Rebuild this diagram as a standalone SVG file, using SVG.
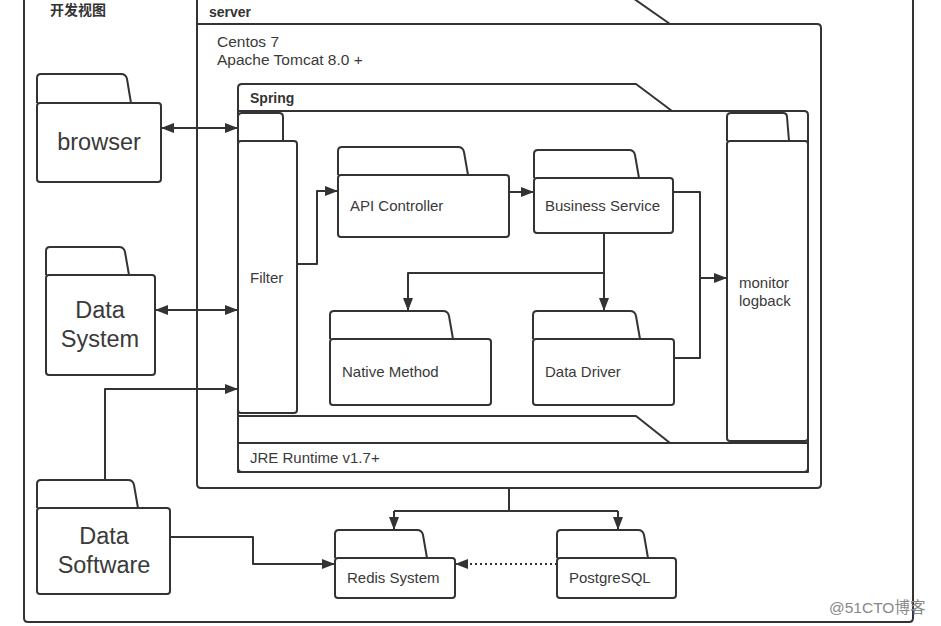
<svg xmlns="http://www.w3.org/2000/svg" width="941" height="626" viewBox="0 0 941 626">
<style>
.ln{fill:none;stroke:#333;stroke-width:2;stroke-linejoin:round}
.bx{fill:#fff;stroke:#333;stroke-width:2;stroke-linejoin:round}
.t{font-family:"Liberation Sans","Noto Sans CJK SC",sans-serif;fill:#3a3a3a;font-size:15px}
.os{font-size:15.5px}
.b{font-weight:bold;font-size:14px;fill:#333}
.big{font-size:23.5px;text-anchor:middle}
.c{fill:none;stroke:#333;stroke-width:2;stroke-linejoin:round}
.wm{font-family:"Liberation Sans","Noto Sans CJK SC",sans-serif;fill:#888;font-size:15.5px}
</style>
<defs>
<marker id="ar" markerUnits="userSpaceOnUse" markerWidth="16" markerHeight="12" refX="13" refY="6" orient="auto-start-reverse">
<path d="M0,1 L13,6 L0,11 Z" fill="#333"/>
</marker>
</defs>
<rect width="941" height="626" fill="#fff"/>

<g id="frame">
<path class="ln" d="M24,-20 V618 Q24,622 28,622 H909 Q913,622 913,618 V-20"/>
<text class="t b" x="50" y="15">开发视图</text>
</g>

<g id="server">
<path class="ln" d="M197,24 V-4 H630 L670,24"/>
<path class="ln" d="M197,24 H817 Q821,24 821,28 V484 Q821,488 817,488 H201 Q197,488 197,484 Z"/>
<text class="t b" x="209" y="17">server</text>
<text class="t os" x="217" y="47">Centos 7</text>
<text class="t os" x="217" y="65">Apache Tomcat 8.0 +</text>
</g>

<g id="spring">
<path class="ln" d="M238,111 V88 Q238,84 242,84 H636 L672,111"/>
<path class="ln" d="M238,111 H804 Q808,111 808,115 V472 H238 Z"/>
<text class="t b" x="250" y="103">Spring</text>
</g>

<g id="jre">
<path class="ln" d="M238,443 V416 H636 L670,443"/>
<path class="ln" d="M238,443 H808 V468 Q808,472 804,472 H242 Q238,472 238,468 Z"/>
<text class="t" x="250" y="463">JRE Runtime v1.7+</text>
</g>

<g id="filter">
<path class="bx" d="M238,141 V117 Q238,113 242,113 H279 Q283,113 283,117 V141"/>
<rect class="bx" x="238" y="141" width="59" height="272" rx="3"/>
<text class="t" x="250" y="283">Filter</text>
</g>

<g id="monitor">
<path class="bx" d="M727,141 V117 Q727,113 731,113 H783 Q787,113 787,117 L789,141"/>
<rect class="bx" x="727" y="141" width="81" height="300" rx="3"/>
<text class="t" x="739" y="288">monitor</text>
<text class="t" x="739" y="306">logback</text>
</g>

<g id="browser">
<path class="bx" d="M37,103 V78 Q37,74 41,74 H121 Q126,74 127,79 L131,103"/>
<rect class="bx" x="37" y="103" width="124" height="79" rx="3"/>
<text class="t big" x="99" y="150">browser</text>
</g>

<g id="data-system">
<path class="bx" d="M46,275 V251 Q46,247 50,247 H119 Q124,247 125,252 L129,275"/>
<rect class="bx" x="46" y="275" width="109" height="100" rx="3"/>
<text class="t big" x="100" y="318">Data</text>
<text class="t big" x="100" y="347">System</text>
</g>

<g id="data-software">
<path class="bx" d="M37,508 V484 Q37,480 41,480 H128 Q133,480 134,485 L138,508"/>
<rect class="bx" x="37" y="508" width="133" height="86" rx="3"/>
<text class="t big" x="104" y="544">Data</text>
<text class="t big" x="104" y="573">Software</text>
</g>

<g id="api-controller">
<path class="bx" d="M338,175 V151 Q338,147 342,147 H458 Q463,147 464,152 L468,175"/>
<rect class="bx" x="338" y="175" width="171" height="62" rx="3"/>
<text class="t" x="350" y="211">API Controller</text>
</g>

<g id="business-service">
<path class="bx" d="M534,178 V154 Q534,150 538,150 H629 Q634,150 635,155 L639,178"/>
<rect class="bx" x="534" y="178" width="139" height="55" rx="3"/>
<text class="t" x="545" y="211">Business Service</text>
</g>

<g id="native-method">
<path class="bx" d="M330,339 V315 Q330,311 334,311 H443 Q448,311 449,316 L453,339"/>
<rect class="bx" x="330" y="339" width="161" height="66" rx="3"/>
<text class="t" x="342" y="377">Native Method</text>
</g>

<g id="data-driver">
<path class="bx" d="M533,339 V315 Q533,311 537,311 H630 Q635,311 636,316 L640,339"/>
<rect class="bx" x="533" y="339" width="141" height="66" rx="3"/>
<text class="t" x="545" y="377">Data Driver</text>
</g>

<g id="redis">
<path class="bx" d="M335,558 V534 Q335,530 339,530 H417 Q422,530 423,535 L427,558"/>
<rect class="bx" x="335" y="558" width="120" height="40" rx="3"/>
<text class="t" x="347" y="583">Redis System</text>
</g>

<g id="postgresql">
<path class="bx" d="M557,558 V534 Q557,530 561,530 H638 Q643,530 644,535 L648,558"/>
<rect class="bx" x="557" y="558" width="119" height="40" rx="3"/>
<text class="t" x="569" y="583">PostgreSQL</text>
</g>

<g id="connectors">
<path class="c" d="M161,128 H238" marker-start="url(#ar)" marker-end="url(#ar)"/>
<path class="c" d="M155,310 H238" marker-start="url(#ar)" marker-end="url(#ar)"/>
<path class="c" d="M105,480 V389 H238" marker-end="url(#ar)"/>
<path class="c" d="M170,537 H253 V564 H335" marker-end="url(#ar)"/>
<path class="c" d="M297,264 H317 V191 H338" marker-end="url(#ar)"/>
<path class="c" d="M509,192 H534" marker-end="url(#ar)"/>
<path class="c" d="M604,233 V311" marker-end="url(#ar)"/>
<path class="c" d="M604,273 H408 V311" marker-end="url(#ar)"/>
<path class="c" d="M673,192 H700 V358 H674"/>
<path class="c" d="M700,278 H727" marker-end="url(#ar)"/>
<path class="c" d="M509,488 V511"/>
<path class="c" d="M394,511 H618"/>
<path class="c" d="M394,511 V530" marker-end="url(#ar)"/>
<path class="c" d="M618,511 V530" marker-end="url(#ar)"/>
<path class="c" d="M557,564 H455" stroke-dasharray="2,3" marker-end="url(#ar)"/>
</g>

<text class="wm" x="829" y="613">@51CTO博客</text>
</svg>
